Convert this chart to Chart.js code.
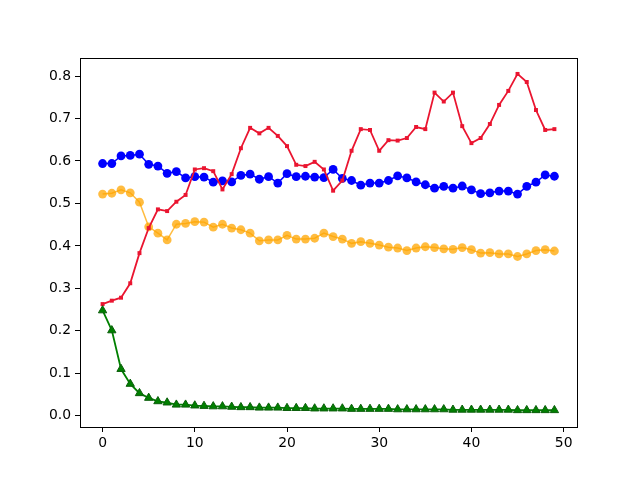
<!DOCTYPE html>
<html>
<head>
<meta charset="utf-8">
<script src="https://cdn.jsdelivr.net/npm/chart.js@4"></script>
<style>
    html, body { margin: 0; padding: 0; background: #ffffff; }
    #wrap { width: 640px; height: 480px; }
</style>
</head>
<body>
<div id="wrap"><canvas id="chart"></canvas></div>
<script>
const steps = Array.from({length: 50}, (_, i) => i);

const blueValues = [
    0.594, 0.594, 0.612, 0.613, 0.616, 0.592, 0.588, 0.571, 0.575, 0.560,
    0.563, 0.562, 0.550, 0.553, 0.551, 0.566, 0.569, 0.557, 0.563, 0.548,
    0.570, 0.563, 0.564, 0.562, 0.561, 0.580, 0.559, 0.554, 0.543, 0.548,
    0.548, 0.554, 0.565, 0.560, 0.551, 0.544, 0.536, 0.540, 0.536, 0.541,
    0.532, 0.523, 0.525, 0.529, 0.529, 0.522, 0.540, 0.550, 0.567, 0.564
];

const orangeValues = [
    0.522, 0.524, 0.532, 0.525, 0.503, 0.445, 0.430, 0.414, 0.451, 0.453,
    0.457, 0.456, 0.444, 0.451, 0.442, 0.438, 0.430, 0.412, 0.414, 0.414,
    0.425, 0.416, 0.416, 0.418, 0.430, 0.422, 0.416, 0.406, 0.410, 0.406,
    0.402, 0.397, 0.395, 0.389, 0.395, 0.398, 0.396, 0.393, 0.392, 0.396,
    0.391, 0.383, 0.384, 0.381, 0.381, 0.375, 0.381, 0.389, 0.391, 0.388
];

const redValues = [
    0.263, 0.271, 0.278, 0.312, 0.383, 0.442, 0.486, 0.482, 0.504, 0.520,
    0.580, 0.583, 0.576, 0.533, 0.569, 0.630, 0.678, 0.665, 0.678, 0.659,
    0.635, 0.591, 0.588, 0.598, 0.580, 0.530, 0.554, 0.624, 0.675, 0.673,
    0.624, 0.649, 0.648, 0.654, 0.680, 0.675, 0.761, 0.740, 0.761, 0.682,
    0.642, 0.654, 0.687, 0.732, 0.765, 0.805, 0.786, 0.720, 0.673, 0.675
];

const greenValues = [
    0.248, 0.201, 0.110, 0.075, 0.053, 0.042, 0.034, 0.031, 0.026, 0.026,
    0.024, 0.023, 0.022, 0.022, 0.021, 0.020, 0.020, 0.019, 0.019, 0.019,
    0.018, 0.018, 0.018, 0.017, 0.017, 0.017, 0.017, 0.016, 0.016, 0.016,
    0.016, 0.016, 0.015, 0.015, 0.015, 0.015, 0.015, 0.015, 0.014, 0.014,
    0.014, 0.014, 0.014, 0.014, 0.014, 0.013, 0.013, 0.013, 0.013, 0.013
];

const xTicks = [0, 10, 20, 30, 40, 50];
const yTicks = [0.0, 0.1, 0.2, 0.3, 0.4, 0.5, 0.6, 0.7, 0.8];

const toPoints = values => values.map((v, i) => ({x: steps[i], y: v}));

// top and right spines, like matplotlib's box
const frame = {
    id: "frame",
    afterDraw(chart) {
        const {ctx, chartArea} = chart;
        ctx.save();
        ctx.strokeStyle = "#000000";
        ctx.lineWidth = 1;
        ctx.strokeRect(Math.round(chartArea.left) + 0.5, Math.round(chartArea.top) + 0.5,
            Math.round(chartArea.width), Math.round(chartArea.height));
        ctx.restore();
    }
};

const tickFont = {family: "DejaVu Sans", size: 13.9};

new Chart(document.getElementById("chart").getContext("2d"), {
    type: "line",
    data: {
        datasets: [
            {
                data: toPoints(greenValues),
                borderColor: "#008000",
                backgroundColor: "#008000",
                pointBorderColor: "#0b5e0b",
                pointStyle: "triangle",
                pointRadius: 4.8,
                borderWidth: 1.8,
                pointBorderWidth: 1,
                order: 1
            },
            {
                data: toPoints(redValues),
                borderColor: "#ea1530",
                backgroundColor: "#ea1530",
                pointStyle: "rect",
                pointRadius: 2.8,
                borderWidth: 1.8,
                pointBorderWidth: 0,
                order: 2
            },
            {
                data: toPoints(orangeValues),
                borderColor: "rgba(255,165,0,0.75)",
                backgroundColor: "rgba(255,165,0,0.75)",
                pointRadius: 4.4,
                borderWidth: 1.5,
                pointBorderWidth: 0,
                order: 3
            },
            {
                data: toPoints(blueValues),
                borderColor: "#0000ff",
                backgroundColor: "#0000ff",
                pointRadius: 4.4,
                borderWidth: 1.5,
                pointBorderWidth: 0,
                order: 4
            }
        ]
    },
    options: {
        responsive: true,
        maintainAspectRatio: false,
        animation: false,
        layout: {padding: {left: 0, right: 63, top: 58, bottom: 0}},
        plugins: {legend: {display: false}, tooltip: {enabled: false}},
        elements: {line: {tension: 0}},
        scales: {
            x: {
                type: "linear",
                min: -2.45,
                max: 51.45,
                afterBuildTicks: scale => { scale.ticks = xTicks.map(v => ({value: v})); },
                afterFit: scale => { scale.height = 53; },
                grid: {drawOnChartArea: false, drawTicks: true, tickLength: 5, tickColor: "#000000"},
                border: {display: true, color: "#000000", width: 1},
                ticks: {color: "#000000", font: tickFont, padding: 3, maxRotation: 0,
                    callback: v => String(v)}
            },
            y: {
                type: "linear",
                min: -0.0265,
                max: 0.8425,
                afterBuildTicks: scale => { scale.ticks = yTicks.map(v => ({value: v})); },
                afterFit: scale => { scale.width = 80; },
                grid: {drawOnChartArea: false, drawTicks: true, tickLength: 5, tickColor: "#000000"},
                border: {display: true, color: "#000000", width: 1},
                ticks: {color: "#000000", font: tickFont, padding: 4,
                    callback: v => v.toFixed(1)}
            }
        }
    },
    plugins: [frame]
});
</script>
</body>
</html>
